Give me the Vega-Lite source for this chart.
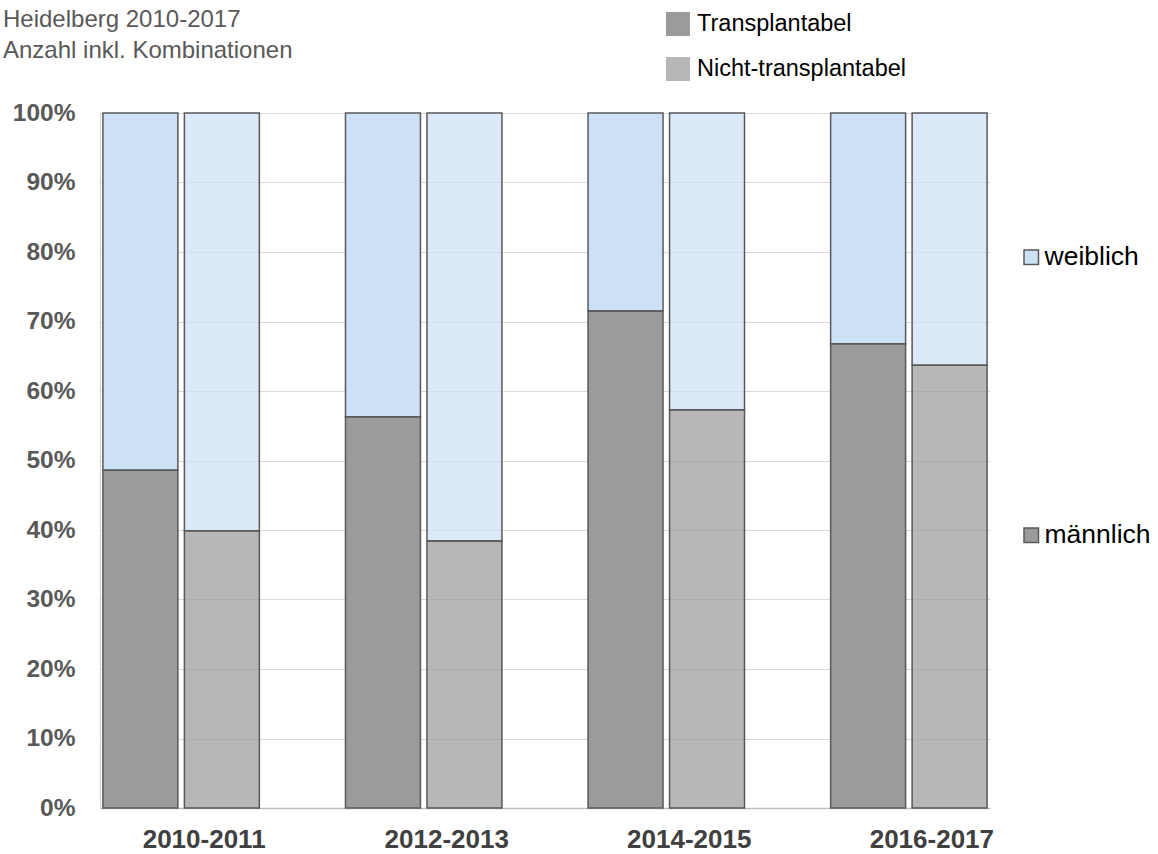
{
  "$schema": "https://vega.github.io/schema/vega-lite/v6.json",
  "autosize": {"type": "none"},
  "width": 890,
  "height": 695,
  "padding": {"left": 100, "top": 113, "right": 168, "bottom": 46},
  "background": "white",
  "title": {
    "text": "Heidelberg 2010-2017",
    "subtitle": "Anzahl inkl. Kombinationen",
    "anchor": "start",
    "frame": "group",
    "dx": -97,
    "offset": -51,
    "font": "Liberation Sans",
    "fontSize": 24,
    "fontWeight": "normal",
    "color": "#595959",
    "subtitleFont": "Liberation Sans",
    "subtitleFontSize": 24,
    "subtitleColor": "#595959",
    "subtitlePadding": 7
  },
  "data": {
    "values": [
      {"period": "2010-2011", "type": "Transplantabel", "sex": "männlich", "value": 48.6},
      {"period": "2010-2011", "type": "Transplantabel", "sex": "weiblich", "value": 51.4},
      {"period": "2010-2011", "type": "Nicht-transplantabel", "sex": "männlich", "value": 39.9},
      {"period": "2010-2011", "type": "Nicht-transplantabel", "sex": "weiblich", "value": 60.1},
      {"period": "2012-2013", "type": "Transplantabel", "sex": "männlich", "value": 56.3},
      {"period": "2012-2013", "type": "Transplantabel", "sex": "weiblich", "value": 43.7},
      {"period": "2012-2013", "type": "Nicht-transplantabel", "sex": "männlich", "value": 38.4},
      {"period": "2012-2013", "type": "Nicht-transplantabel", "sex": "weiblich", "value": 61.6},
      {"period": "2014-2015", "type": "Transplantabel", "sex": "männlich", "value": 71.5},
      {"period": "2014-2015", "type": "Transplantabel", "sex": "weiblich", "value": 28.5},
      {"period": "2014-2015", "type": "Nicht-transplantabel", "sex": "männlich", "value": 57.3},
      {"period": "2014-2015", "type": "Nicht-transplantabel", "sex": "weiblich", "value": 42.7},
      {"period": "2016-2017", "type": "Transplantabel", "sex": "männlich", "value": 66.8},
      {"period": "2016-2017", "type": "Transplantabel", "sex": "weiblich", "value": 33.2},
      {"period": "2016-2017", "type": "Nicht-transplantabel", "sex": "männlich", "value": 63.7},
      {"period": "2016-2017", "type": "Nicht-transplantabel", "sex": "weiblich", "value": 36.3}
    ]
  },
  "encoding": {
    "x": {
      "field": "period",
      "type": "nominal",
      "sort": null,
      "scale": {"paddingInner": 0.355, "paddingOuter": 0.012},
      "axis": {
        "title": null,
        "labelAngle": 0,
        "labelFont": "Liberation Sans",
        "labelFontSize": 26,
        "labelFontWeight": "bold",
        "labelColor": "#404040",
        "labelPadding": 18,
        "labelOffset": 23,
        "ticks": false,
        "domainColor": "#bfbfbf",
        "domainWidth": 1.5
      }
    },
    "xOffset": {
      "field": "type",
      "type": "nominal",
      "sort": ["Transplantabel", "Nicht-transplantabel"],
      "scale": {"paddingInner": 0.08, "paddingOuter": 0}
    },
    "y": {
      "field": "value",
      "type": "quantitative",
      "stack": "normalize",
      "scale": {"domain": [0, 1]},
      "axis": {
        "title": null,
        "format": ".0%",
        "values": [0, 0.1, 0.2, 0.3, 0.4, 0.5, 0.6, 0.7, 0.8, 0.9, 1],
        "labelFont": "Liberation Sans",
        "labelFontSize": 24.5,
        "labelFontWeight": "bold",
        "labelColor": "#595959",
        "labelPadding": 25,
        "ticks": false,
        "domain": true,
        "domainColor": "#d0d0d0",
        "grid": true,
        "gridColor": "#d9d9d9",
        "gridWidth": 1.2
      }
    },
    "order": {"field": "sex", "sort": "ascending"}
  },
  "layer": [
    {
      "mark": {"type": "bar", "strokeWidth": 0},
      "encoding": {
        "color": {
          "field": "sex",
          "type": "nominal",
          "scale": {"domain": ["weiblich", "männlich"], "range": ["#cde1f6", "#9b9b9b"]},
          "legend": {
            "title": null,
            "orient": "none",
            "legendX": 918,
            "legendY": 131,
            "padding": 0,
            "rowPadding": 251,
            "symbolType": "square",
            "symbolSize": 210,
            "symbolStrokeColor": "#595959",
            "symbolStrokeWidth": 1.5,
            "symbolOpacity": 1,
            "labelFont": "Liberation Sans",
            "labelFontSize": 26.5,
            "labelColor": "#000000",
            "labelOffset": 0,
            "labelLimit": 300
          }
        },
        "opacity": {
          "field": "type",
          "type": "nominal",
          "scale": {"domain": ["Transplantabel", "Nicht-transplantabel"], "range": [1, 0.72]},
          "legend": {
            "title": null,
            "orient": "none",
            "legendX": 566,
            "legendY": -101,
            "padding": 0,
            "rowPadding": 21,
            "symbolType": "square",
            "symbolSize": 576,
            "symbolFillColor": "#9b9b9b",
            "symbolStrokeWidth": 0,
            "labelFont": "Liberation Sans",
            "labelFontSize": 23.5,
            "labelColor": "#000000",
            "labelOffset": 7,
            "labelLimit": 400
          }
        }
      }
    },
    {
      "mark": {"type": "bar", "filled": false, "stroke": "#595959", "strokeWidth": 1.5},
      "encoding": {
        "detail": {"field": "sex", "type": "nominal"}
      }
    }
  ],
  "config": {
    "view": {"stroke": null}
  }
}
